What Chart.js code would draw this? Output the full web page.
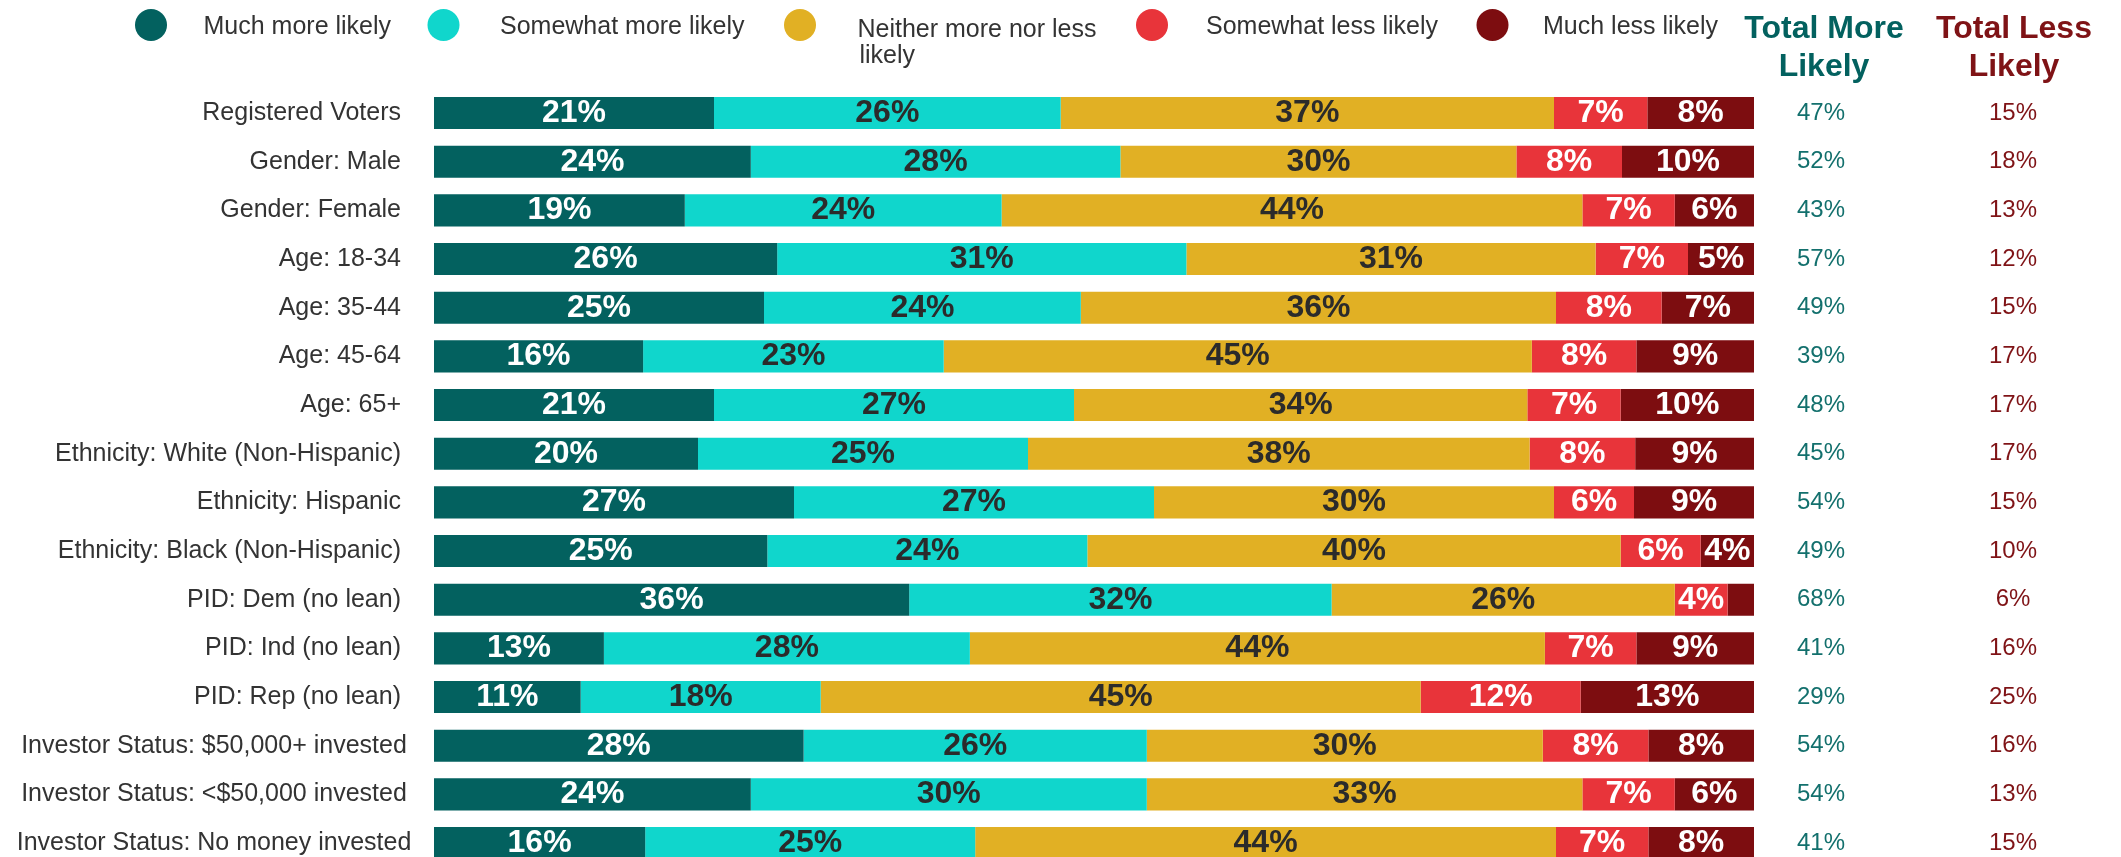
<!DOCTYPE html>
<html>
<head>
<meta charset="utf-8">
<title>Likelihood by group</title>
<script src="https://cdn.jsdelivr.net/npm/chart.js@4.4.1/dist/chart.umd.min.js"></script>
<style>
    html, body { margin: 0; padding: 0; background: #fff; overflow: hidden; }
    #wrap { width: 2121px; height: 857px; overflow: hidden; }
</style>
</head>
<body>
<div id="wrap"><canvas id="myChart" width="2121" height="880"></canvas></div>
<script>
/*
* Данные
*/
var categories = [
    'Registered Voters', 'Gender: Male', 'Gender: Female', 'Age: 18-34', 'Age: 35-44',
    'Age: 45-64', 'Age: 65+', 'Ethnicity: White (Non-Hispanic)', 'Ethnicity: Hispanic',
    'Ethnicity: Black (Non-Hispanic)', 'PID: Dem (no lean)', 'PID: Ind (no lean)',
    'PID: Rep (no lean)', 'Investor Status: $50,000+ invested',
    'Investor Status: <$50,000 invested', 'Investor Status: No money invested'
];
var seriesNames = ['Much more likely', 'Somewhat more likely', 'Neither more nor less likely', 'Somewhat less likely', 'Much less likely'];

var muchMore     = [21, 24, 19, 26, 25, 16, 21, 20, 27, 25, 36, 13, 11, 28, 24, 16];
var somewhatMore = [26, 28, 24, 31, 24, 23, 27, 25, 27, 24, 32, 28, 18, 26, 30, 25];
var neither      = [37, 30, 44, 31, 36, 45, 34, 38, 30, 40, 26, 44, 45, 30, 33, 44];
var somewhatLess = [7, 8, 7, 7, 8, 8, 7, 8, 6, 6, 4, 7, 12, 8, 7, 7];
var muchLess     = [8, 10, 6, 5, 7, 9, 10, 9, 9, 4, 2, 9, 13, 8, 6, 8];

var totalMore = [47, 52, 43, 57, 49, 39, 48, 45, 54, 49, 68, 41, 29, 54, 54, 41];
var totalLess = [15, 18, 13, 12, 15, 17, 17, 17, 15, 10, 6, 16, 25, 16, 13, 15];

var colors = ['#03615F', '#10D6CC', '#E1B024', '#E8343A', '#7D0D10'];
var labelColors = ['#ffffff', '#2b2b2b', '#2b2b2b', '#ffffff', '#ffffff'];
var FONT = "'Liberation Sans', Arial, sans-serif";

/*
* Построение графика
*/
var rawSeries = [muchMore, somewhatMore, neither, somewhatLess, muchLess];
var datasets = [];

//каждая строка растягивается до 100%
for (var s = 0; s < rawSeries.length; s++) {
    var data = [];
    for (var i = 0; i < categories.length; i++) {
        var sum = 0;
        for (var k = 0; k < rawSeries.length; k++) {
            sum += rawSeries[k][i];
        }
        data.push(rawSeries[s][i] / sum * 100);
    }
    datasets.push({
        label: seriesNames[s],
        data: data,
        raw: rawSeries[s],
        backgroundColor: colors[s],
        borderWidth: 0,
        categoryPercentage: 1,
        barPercentage: 0.66
    });
}

//подписи на столбцах, названия групп, итоги справа, легенда
var labelsPlugin = {
    id: 'labelsPlugin',
    afterDatasetsDraw: function(chart) {
        var c = chart.ctx;
        var yScale = chart.scales.y;
        c.save();
        c.textAlign = 'center';
        c.textBaseline = 'middle';
        c.font = 'bold 32px ' + FONT;
        chart.data.datasets.forEach(function(ds, di) {
            var meta = chart.getDatasetMeta(di);
            meta.data.forEach(function(bar, i) {
                var v = ds.raw[i];
                if (v < 3) return;
                c.fillStyle = labelColors[di];
                c.fillText(v + '%', (bar.x + bar.base) / 2, bar.y);
            });
        });

        //названия групп: длинные центрируются в своей рамке
        c.font = '25px ' + FONT;
        c.fillStyle = '#333333';
        for (var i = 0; i < categories.length; i++) {
            var y = yScale.getPixelForValue(i);
            var w = c.measureText(categories[i]).width;
            if (w > 374) {
                c.textAlign = 'center';
                c.fillText(categories[i], 214, y);
            } else {
                c.textAlign = 'right';
                c.fillText(categories[i], 401, y);
            }
        }

        //итоговые колонки
        c.textAlign = 'center';
        c.font = '24px ' + FONT;
        for (var i = 0; i < categories.length; i++) {
            var y = yScale.getPixelForValue(i);
            c.fillStyle = '#13706D';
            c.fillText(totalMore[i] + '%', 1821, y);
            c.fillStyle = '#7F1316';
            c.fillText(totalLess[i] + '%', 2013, y);
        }

        c.font = 'bold 32px ' + FONT;
        c.textBaseline = 'alphabetic';
        c.fillStyle = '#03615F';
        c.fillText('Total More', 1824, 38);
        c.fillText('Likely', 1824, 76);
        c.fillStyle = '#7F1316';
        c.fillText('Total Less', 2014, 38);
        c.fillText('Likely', 2014, 76);

        //легенда
        var circleX = [151, 443.5, 800, 1152, 1492.5];
        var textX = [203.5, 500, 857.5, 1206, 1543];
        c.textAlign = 'left';
        c.font = '25px ' + FONT;
        for (var s = 0; s < seriesNames.length; s++) {
            c.fillStyle = colors[s];
            c.beginPath();
            c.arc(circleX[s], 25, 16, 0, Math.PI * 2);
            c.fill();
            c.fillStyle = '#333333';
            if (s === 2) {
                c.fillText('Neither more nor less', textX[s], 37);
                c.fillText('likely', textX[s] + 2, 63);
            } else {
                c.fillText(seriesNames[s], textX[s], 34);
            }
        }
        c.restore();
    }
};

var ctx = document.getElementById('myChart').getContext('2d');
var myChart = new Chart(ctx, {
    type: 'bar',
    data: {
        labels: categories,
        datasets: datasets
    },
    options: {
        indexAxis: 'y',
        responsive: false,
        animation: false,
        devicePixelRatio: 1,
        layout: { padding: { top: 88.7, right: 367, bottom: 12.6, left: 0 } },
        plugins: {
            legend: { display: false },
            tooltip: { enabled: false }
        },
        scales: {
            x: { stacked: true, min: 0, max: 100, display: false },
            y: {
                stacked: true,
                grid: { display: false, drawTicks: false },
                border: { display: false },
                ticks: { display: false },
                afterFit: function(scale) {
                    scale.width = 434;
                    scale.paddingTop = 0;
                    scale.paddingBottom = 0;
                }
            }
        }
    },
    plugins: [labelsPlugin]
});
</script>
</body>
</html>
